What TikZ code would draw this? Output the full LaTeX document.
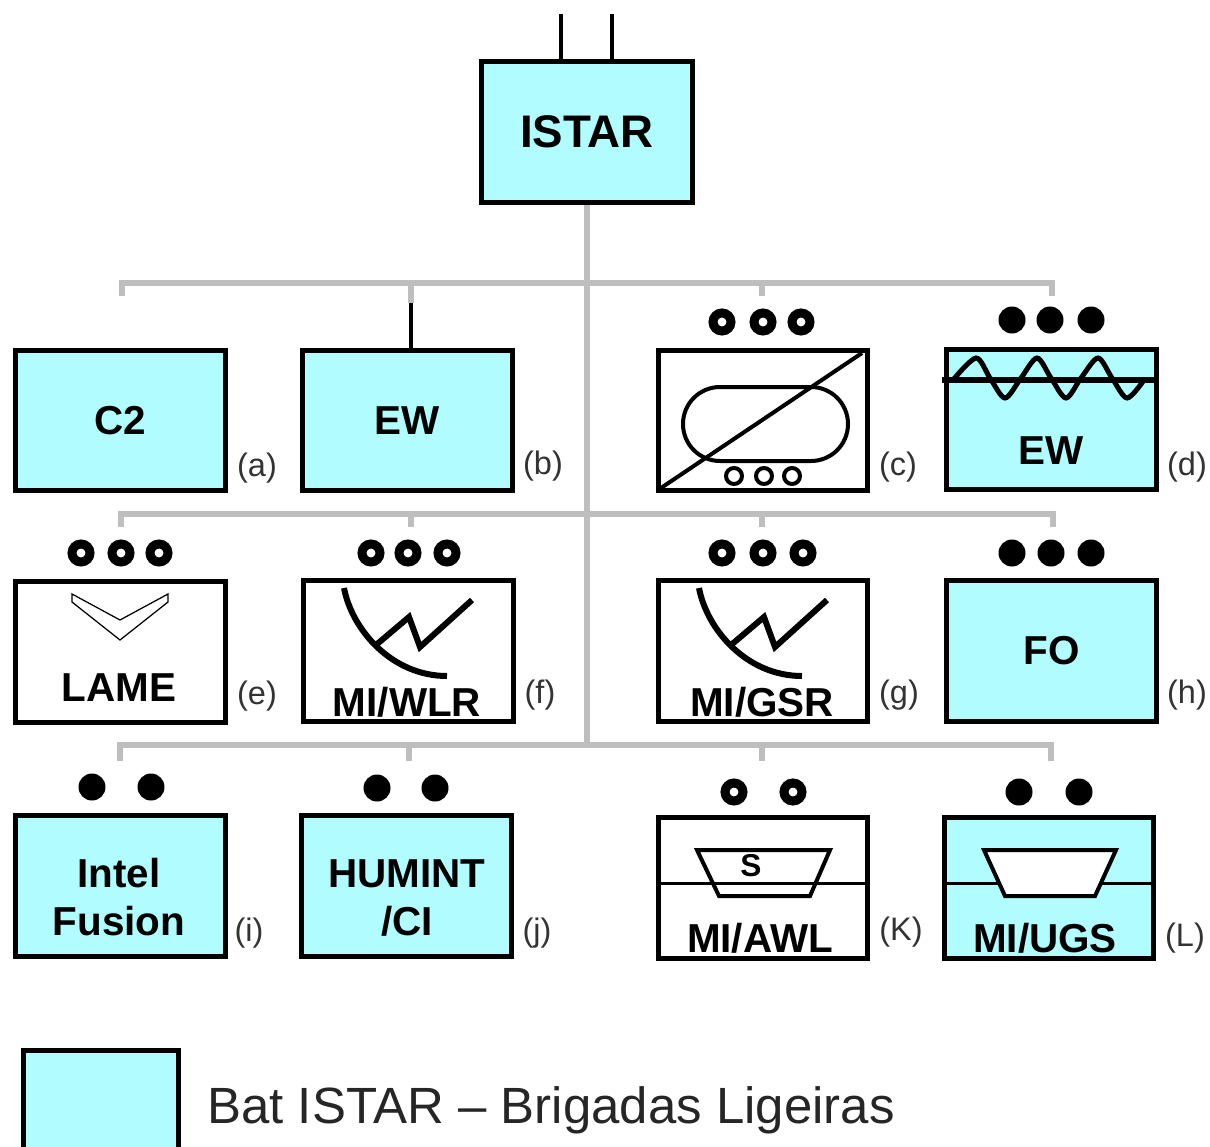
\documentclass[tikz,border=0pt]{standalone}
\usepackage{fontspec}
\setmainfont{Liberation Sans}
\definecolor{batcyan}{HTML}{B0FCFF}
\definecolor{busgray}{HTML}{BEBEBE}
\tikzset{
  unitbox/.style={draw=black,line width=0.1cm,minimum width=4.2cm,minimum height=2.82cm,inner sep=0pt},
  batbox/.style={unitbox,fill=batcyan},
  unittext/.style={font=\fontsize{23}{27}\selectfont\bfseries,align=center,inner sep=0pt},
  tagtext/.style={font=\fontsize{18.5}{22}\selectfont,text=black!80,inner sep=0pt},
  busline/.style={busgray,line width=0.12cm},
  fulldot/.style={circle,fill=black,minimum size=0.54cm,inner sep=0pt},
  opendot/.style={circle,draw=black,fill=white,line width=0.18cm,minimum size=0.36cm,inner sep=0pt},
  smalldot/.style={circle,draw=black,line width=0.08cm,minimum size=0.32cm,inner sep=0pt},
  symline/.style={black,line width=0.08cm},
  heavyline/.style={black,line width=0.12cm},
  thinline/.style={black,line width=0.06cm}
}
\begin{document}
\begin{tikzpicture}[x=0.02cm,y=-0.02cm]
    \useasboundingbox (0,0) rectangle (1210,1146);
    % bus
    \coordinate (bus1) at (587,283);
    \coordinate (bus2) at (587,514);
    \coordinate (bus3) at (587,745);
    \foreach \n/\x in {a/122,b/411,c/762,d/1052} {
      \coordinate (drop1\n) at (\x,296);
      \draw[busline] (drop1\n) |- (bus1);
    }
    \foreach \n/\x in {a/121,b/411,c/762,d/1053} {
      \coordinate (drop2\n) at (\x,527);
      \draw[busline] (drop2\n) |- (bus2);
    }
    \foreach \n/\x in {a/120,b/409,c/762,d/1051} {
      \coordinate (drop3\n) at (\x,761);
      \draw[busline] (drop3\n) |- (bus3);
    }
    % boxes
    \node[batbox,font=\fontsize{26}{30}\selectfont\bfseries,minimum width=4.24cm] (istar) at (587,132) {ISTAR};
    \node[batbox,unittext] (cmd) at (120.5,420.5) {C2};
    \node[batbox,unittext] (ewb) at (407.5,420.5) {EW};
    \node[unitbox] (sensc) at (763,420.5) {};
    \node[batbox] (ewd) at (1051.5,419.5) {};
    \node[unitbox] (lame) at (120.5,652) {};
    \node[unitbox] (wlr) at (408.5,651) {};
    \node[unitbox] (gsr) at (763,651) {};
    \node[batbox,unittext] (fo) at (1051.5,651) {FO};
    \node[batbox] (intel) at (120.5,886) {};
    \node[batbox] (humint) at (406.5,886) {};
    \node[unitbox] (awl) at (763,888) {};
    \node[batbox] (ugs) at (1049,888) {};
    \node[batbox,minimum width=3.12cm,minimum height=2.06cm] (legend) at (101,1102) {};
    \draw[busline] (istar.south) -- (bus3);
    % top stubs
    \coordinate (ina) at (561,14);
    \coordinate (inb) at (612,14);
    \draw[thinline,line width=0.08cm] (ina) -- (ina |- istar.north);
    \draw[thinline,line width=0.08cm] (inb) -- (inb |- istar.north);
    \coordinate (ewstub) at (411,303);
    \draw[busline] (ewstub) |- (bus1);
    \draw[thinline,line width=0.08cm] (ewstub) -- (ewstub |- ewb.north);
    % echelon dots
    \foreach \x/\y in {1012/320,1050/320,1091/320,1012/553,1051/553,1091/553,92/787,151/787,377/788,435/788,1019/792,1079/792}
      \node[fulldot] (full\x-\y) at (\x,\y) {};
    \foreach \x/\y in {722/322,763/322,801/322,81/553,121/553,159/553,371/553,408/553,447/553,722/553,763/553,803/553,734/792,793/792}
      \node[opendot] (open\x-\y) at (\x,\y) {};
    % symbol c
    \draw[symline,rounded corners=0.74cm] (683,387) rectangle (848,461);
    \draw[symline] (658,490) -- (862,353);
    \foreach \x in {734,764,792}
      \node[smalldot] (tread\x) at (\x,476) {};
    % symbol d
    \draw[symline,line width=0.1cm] plot[smooth] coordinates {
      (953,380) (976,358) (990,378) (1005,398) (1021,378) (1037,358) (1051,378) (1066,398) (1081,378) (1098,358) (1112,378) (1127,398) (1144,380)
    };
    \draw[heavyline] (942,380) -- (1158,380);
    \node[unittext] (ewdtext) at (1051,451) {EW};
    % symbol e
    \draw[black,line width=0.025cm] (72,594) -- (120,620) -- (168,594) -- (168,602) -- (120,640) -- (72,602) -- cycle;
    \node[unittext] (lametext) at (119,688) {LAME};
    % symbols f and g
    \foreach \dx/\n/\t in {0/wlrtext/MI\slash WLR,355/gsrtext/MI\slash GSR} {
      \begin{scope}[xshift=\dx*0.02cm]
        \draw[heavyline] (344,588) .. controls (352,630) and (392,676) .. (447,676);
        \draw[heavyline,line join=miter] (376,645) -- (409,617) -- (420,647) -- (472,600);
        \node[unittext] (\n) at (407,702) {\t};
      \end{scope}
    }
    % symbols k and l
    \draw[thinline] (awl.west |- 0,883) -- (awl.east |- 0,883);
    \draw[symline] (697,850) -- (830,850) -- (810,896) -- (719,896) -- cycle;
    \node[unittext,font=\fontsize{18}{20}\selectfont\bfseries] (stext) at (751,866) {S};
    \node[unittext] (awltext) at (760,938) {MI/AWL};
    \draw[thinline] (ugs.west |- 0,883) -- (ugs.east |- 0,883);
    \draw[symline,fill=white] (984,850) -- (1116,850) -- (1095,896) -- (1005,896) -- cycle;
    \node[unittext] (ugstext) at (1045,938) {MI/UGS};
    % two line labels
    \node[unittext] (inteltext) at (119,897) {Intel\\Fusion};
    \node[unittext] (huminttext) at (407,898) {HUMINT\\/CI};
    % tags
    \foreach \t/\x/\y in {a/257/468,b/543/466,c/898/467,d/1187/467,e/257/696,f/540/695,g/899/695,h/1187/695,i/249/933,j/537/933,K/901/932,L/1185/938}
      \node[tagtext] (tag\t) at (\x,\y) {(\t)};
    % legend
    \node[anchor=base west,inner sep=0pt,font=\fontsize{29}{33}\selectfont,text=black!85] (legendtext) at (207,1123) {Bat ISTAR – Brigadas Ligeiras};
\end{tikzpicture}
\end{document}
